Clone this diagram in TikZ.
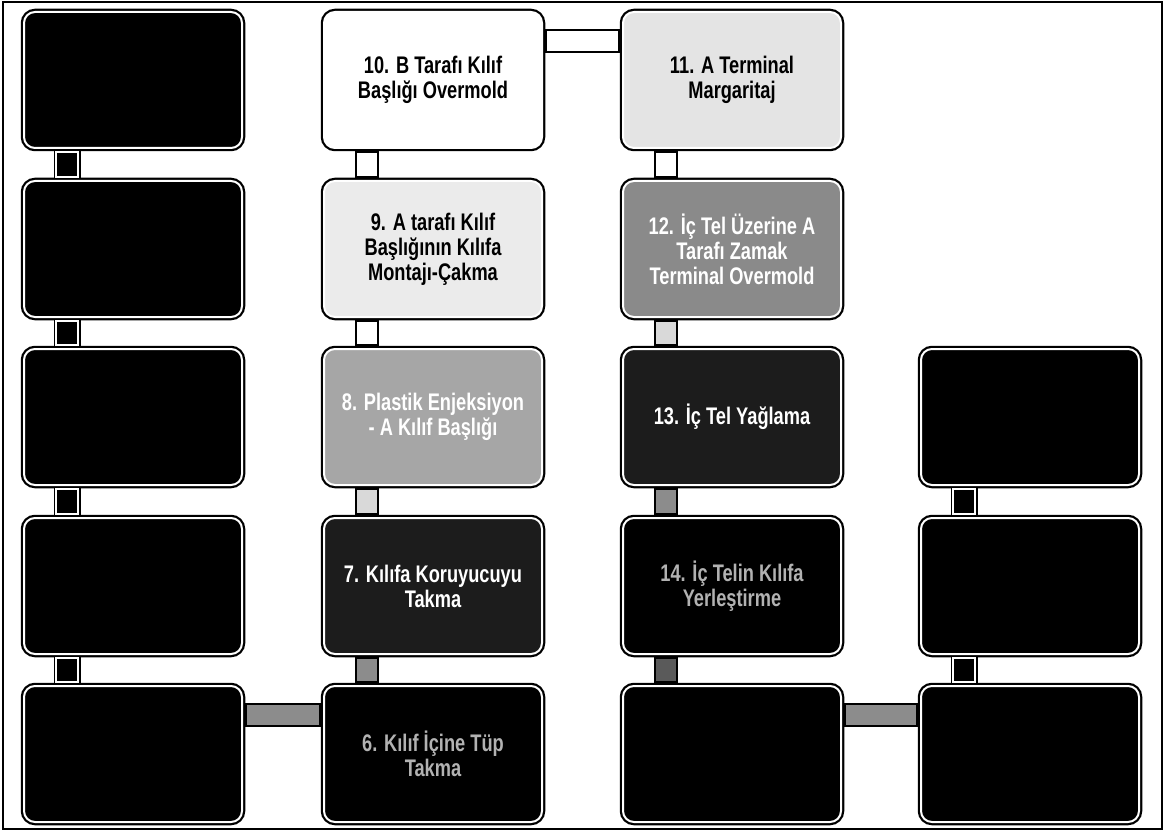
\documentclass[tikz,border=0pt]{standalone}
\usepackage{fontspec}
\setmainfont{Liberation Sans}[FakeStretch=0.76]
\usetikzlibrary{calc}
\definecolor{fogA}{HTML}{EBEBEB}
\definecolor{fogB}{HTML}{E4E4E4}
\definecolor{ashA}{HTML}{A6A6A6}
\definecolor{ashB}{HTML}{8A8A8A}
\definecolor{coal}{HTML}{1C1C1C}
\definecolor{linkgray}{HTML}{8C8C8C}
\definecolor{linklight}{HTML}{D9D9D9}
\definecolor{linkdark}{HTML}{5A5A5A}
\tikzset{
  stepbox/.style={rounded corners=11pt, minimum width=218pt, minimum height=136pt,
    anchor=north west, inner sep=4pt, align=center,
    font=\fontsize{24}{25}\selectfont\bfseries,
    preaction={draw=black, line width=6.5pt}, draw=white, line width=2pt},
  link/.style={draw=black, line width=1.6pt},
  blacklink/.style={preaction={draw=black, line width=5pt}, draw=white, line width=1.4pt, fill=black},
}
\begin{document}
\begin{tikzpicture}[x=1pt, y=-1pt]
  \useasboundingbox (0,0) rectangle (1165,832);
  \draw[line width=1.6pt] (3,2) rectangle (1162,829);
  % first column, no text
  \node[stepbox, fill=black] (k1) at (23,11) {};
  \node[stepbox, fill=black] (k2) at (23,180) {};
  \node[stepbox, fill=black] (k3) at (23,348) {};
  \node[stepbox, fill=black] (k4) at (23,517) {};
  \node[stepbox, fill=black] (k5) at (23,685) {};
  % second column
  \node[stepbox, fill=white] (s10) at (323,11) {10. B Tarafı Kılıf\\Başlığı Overmold};
  \node[stepbox, fill=fogA] (s9) at (323,180) {9. A tarafı Kılıf\\Başlığının Kılıfa\\Montajı-Çakma};
  \node[stepbox, fill=ashA, text=white] (s8) at (323,348) {8. Plastik Enjeksiyon\\- A Kılıf Başlığı};
  \node[stepbox, fill=coal, text=white] (s7) at (323,517) {7. Kılıfa Koruyucuyu\\Takma};
  \node[stepbox, fill=black, text=gray!60] (s6) at (323,685) {6. Kılıf İçine Tüp\\Takma};
  % third column
  \node[stepbox, fill=fogB] (s11) at (622,11) {11. A Terminal\\Margaritaj};
  \node[stepbox, fill=ashB, text=white] (s12) at (622,180) {12. İç Tel Üzerine A\\Tarafı Zamak\\Terminal Overmold};
  \node[stepbox, fill=coal, text=white] (s13) at (622,348) {13. İç Tel Yağlama};
  \node[stepbox, fill=black, text=gray!60] (s14) at (622,517) {14. İç Telin Kılıfa\\Yerleştirme};
  \node[stepbox, fill=black] (s15) at (622,685) {};
  % fourth column, no text
  \node[stepbox, fill=black] (m3) at (920,348) {};
  \node[stepbox, fill=black] (m4) at (920,517) {};
  \node[stepbox, fill=black] (m5) at (920,685) {};
  % vertical links
  \draw[blacklink] ($(k1.south west)+(33,3)$) rectangle ($(k2.north west)+(55,-3)$);
  \draw[blacklink] ($(k2.south west)+(33,3)$) rectangle ($(k3.north west)+(55,-3)$);
  \draw[blacklink] ($(k3.south west)+(33,3)$) rectangle ($(k4.north west)+(55,-3)$);
  \draw[blacklink] ($(k4.south west)+(33,3)$) rectangle ($(k5.north west)+(55,-3)$);
  \draw[link, fill=white] ($(s10.south west)+(33,3)$) rectangle ($(s9.north west)+(55,-3)$);
  \draw[link, fill=white] ($(s9.south west)+(33,3)$) rectangle ($(s8.north west)+(55,-3)$);
  \draw[link, fill=linklight] ($(s8.south west)+(33,3)$) rectangle ($(s7.north west)+(55,-3)$);
  \draw[link, fill=linkgray] ($(s7.south west)+(33,3)$) rectangle ($(s6.north west)+(55,-3)$);
  \draw[link, fill=white] ($(s11.south west)+(33,3)$) rectangle ($(s12.north west)+(55,-3)$);
  \draw[link, fill=linklight] ($(s12.south west)+(33,3)$) rectangle ($(s13.north west)+(55,-3)$);
  \draw[link, fill=linkgray] ($(s13.south west)+(33,3)$) rectangle ($(s14.north west)+(55,-3)$);
  \draw[link, fill=linkdark] ($(s14.south west)+(33,3)$) rectangle ($(s15.north west)+(55,-3)$);
  \draw[blacklink] ($(m3.south west)+(33,3)$) rectangle ($(m4.north west)+(55,-3)$);
  \draw[blacklink] ($(m4.south west)+(33,3)$) rectangle ($(m5.north west)+(55,-3)$);
  % horizontal links
  \draw[link, fill=white] ($(s10.north east)+(3,19)$) rectangle ($(s11.north west)+(-3,41)$);
  \draw[link, fill=linkgray] ($(k5.north east)+(3,19)$) rectangle ($(s6.north west)+(-3,41)$);
  \draw[link, fill=linkgray] ($(s15.north east)+(3,19)$) rectangle ($(m5.north west)+(-3,41)$);
\end{tikzpicture}
\end{document}
